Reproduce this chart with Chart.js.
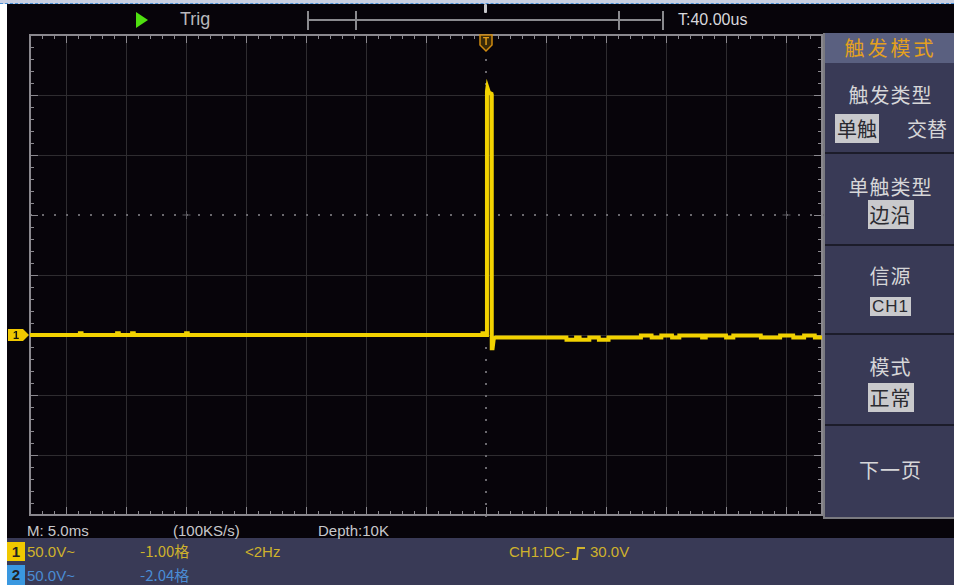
<!DOCTYPE html>
<html><head><meta charset="utf-8">
<script src="https://cdn.jsdelivr.net/npm/chart.js@4/dist/chart.umd.min.js"></script>
<style>
html,body{margin:0;padding:0;background:#fff;}
#wrap{position:relative;width:954px;height:585px;overflow:hidden;background:#fff;font-family:"Liberation Sans","DejaVu Sans",sans-serif;}
.abs{position:absolute;}
#screen{left:7px;top:3px;width:947px;height:582px;background:#07040a;}
#topline{left:0;top:0;width:954px;height:3px;background:#c9d0e2;border-bottom:1px dashed #4a90d8;}
#bottom{left:7px;top:538px;width:947px;height:47px;background:#393a56;}
#panel{left:823px;top:33px;width:131px;height:484px;background:#393a56;border-left:2px solid #7a7a80;border-bottom:2px solid #7a7a80;}
.sep{position:absolute;left:0;width:131px;height:2px;background:#1c1c2a;}
.cjk{font-family:"Noto Sans CJK SC",sans-serif;}
.mt{position:absolute;left:0;width:131px;text-align:center;color:#d6d6d8;font-size:20px;line-height:24px;letter-spacing:1px;}
.hl{background:#c9c9cc;color:#2a2a30;padding:0 2px;}
.st{position:absolute;font-size:15px;line-height:18px;}
canvas{position:absolute;left:0;top:0;}
</style></head>
<body><div id="wrap">
<div class="abs" id="screen"></div>
<div class="abs" id="topline"></div>
<div class="abs" id="bottom"></div>
<div class="abs" id="panel">
  <div class="abs" style="left:0;top:0;width:131px;height:30px;background:#5a6080;"></div>
  <div class="mt cjk" style="top:3px;color:#e4a020;letter-spacing:3px;">触发模式</div>
  <div class="mt cjk" style="top:50px;">触发类型</div>
  <div class="abs cjk" style="left:10px;top:84px;font-size:20px;line-height:24px;color:#d6d6d8;"><span class="hl">单触</span></div>
  <div class="abs cjk" style="left:82px;top:84px;font-size:20px;line-height:24px;color:#d6d6d8;">交替</div>
  <div class="sep" style="top:119px;"></div>
  <div class="mt cjk" style="top:142px;">单触类型</div>
  <div class="mt cjk" style="top:170px;"><span class="hl">边沿</span></div>
  <div class="sep" style="top:211px;"></div>
  <div class="mt cjk" style="top:231px;">信源</div>
  <div class="mt" style="top:262px;font-size:17px;"><span class="hl">CH1</span></div>
  <div class="sep" style="top:300px;"></div>
  <div class="mt cjk" style="top:322px;">模式</div>
  <div class="mt cjk" style="top:353px;"><span class="hl">正常</span></div>
  <div class="sep" style="top:391px;"></div>
  <div class="mt cjk" style="top:425px;">下一页</div>
</div>
<!-- top bar -->
<div class="abs" style="left:136px;top:12px;width:0;height:0;border-top:8px solid transparent;border-bottom:8px solid transparent;border-left:12px solid #4fe010;"></div>
<div class="abs" style="left:180px;top:9px;color:#b8b8bc;font-size:18px;line-height:20px;">Trig</div>
<div class="abs" style="left:307px;top:11px;width:2px;height:19px;background:#8a8a8e;"></div>
<div class="abs" style="left:309px;top:19px;width:352px;height:2px;background:#8a8a8e;"></div>
<div class="abs" style="left:355px;top:11px;width:2px;height:19px;background:#8a8a8e;"></div>
<div class="abs" style="left:618px;top:11px;width:2px;height:19px;background:#8a8a8e;"></div>
<div class="abs" style="left:662px;top:11px;width:2px;height:19px;background:#8a8a8e;"></div>
<div class="abs" style="left:484px;top:4px;width:3px;height:9px;background:#c8c8cc;border-radius:1px;"></div>
<div class="abs" style="left:678px;top:10px;color:#d8d8dc;font-size:16px;line-height:20px;">T:40.00us</div>
<!-- status -->
<div class="st" style="left:27px;top:522px;color:#c8c8cc;">M: 5.0ms</div>
<div class="st" style="left:173px;top:522px;color:#c8c8cc;">(100KS/s)</div>
<div class="st" style="left:318px;top:522px;color:#c8c8cc;">Depth:10K</div>
<div class="abs" style="left:7px;top:542px;width:18px;height:19px;background:#f0c800;color:#222;font-size:15px;line-height:19px;text-align:center;font-weight:bold;">1</div>
<div class="abs" style="left:7px;top:565px;width:18px;height:20px;background:#3a98e0;color:#222;font-size:15px;line-height:20px;text-align:center;font-weight:bold;">2</div>
<div class="st" style="left:27px;top:543px;color:#cfb22c;">50.0V~</div>
<div class="st cjk" style="left:140px;top:541px;color:#cfb22c;line-height:20px;">-1.00格</div>
<div class="st" style="left:245px;top:543px;color:#cfb22c;">&lt;2Hz</div>
<div class="st" style="left:509px;top:543px;color:#cfb22c;">CH1:DC-<span style="display:inline-block;width:16px;height:13px;position:relative;"><svg width="16" height="14" style="position:absolute;left:1px;top:2px"><path d="M1 13 H6 L7 2 H14" stroke="#cfb22c" stroke-width="2" fill="none"/></svg></span> 30.0V</div>
<div class="st" style="left:27px;top:567px;color:#4a8cd4;">50.0V~</div>
<div class="st cjk" style="left:140px;top:565px;color:#4a8cd4;line-height:20px;">-2.04格</div>
<canvas id="c" width="954" height="585"></canvas>
</div>
<script>
// time axis in ms (5 ms/div), voltage in V (50 V/div), CH1 ground at 0 V
const xRange = [-38, 28];
const yRange = [-150, 250];
const xGrid = [-35, -30, -25, -20, -15, -10, -5, 0, 5, 10, 15, 20, 25];
const yGrid = [-100, -50, 0, 50, 100, 150, 200];
const times = [-38, -33.85, -33.84, -33.7, -33.69, -30.75, -30.74, -30.6, -30.59, -29.5, -29.49, -29.35, -29.34, -25.0, -24.99, -24.85, -24.84, -12, -0.3, -0.29, -0.15, -0.14, 0.05, 0.08, 0.12, 0.25, 0.45, 0.48, 0.55, 0.65, 0.8,
  6.7, 6.71, 7.5, 7.51, 7.8, 7.81, 8.6, 8.61, 9.4, 9.41, 10.2, 10.21, 12.9, 12.91, 13.8, 13.81, 14.6, 14.61, 15.5, 15.51, 16.1, 16.11, 18.0, 18.01, 18.3, 18.31, 20.0, 20.01, 20.6, 20.61, 22.9, 22.91, 24.5, 24.51, 25.6, 25.61, 26.5, 26.51, 27.4, 27.41, 28];
const volts = [0, 0, 1.5, 1.5, 0, 0, 1.5, 1.5, 0, 0, 1.5, 1.5, 0, 0, 1.5, 1.5, 0, 0, 0, 1.5, 1.5, 0, 0, 203, 206, 202, 201, -11, -11, -3, -2,
  -2, -4, -4, -2, -2, -4, -4, -2, -2, -4, -4, -2, -2, -0.5, -0.5, -2, -2, -0.5, -0.5, -2, -2, -0.5, -0.5, -2, -2, -0.5, -0.5, -2, -2, -0.5, -0.5, -2, -2, -0.5, -0.5, -2, -2, -0.5, -0.5, -2, -2];
const xMinorStep = 1, yMinorStep = 10;

const pts = times.map((t, i) => ({x: t, y: volts[i]}));

const scopeGrid = {
  id: 'scopeGrid',
  beforeDatasetsDraw(chart) {
    const {ctx, chartArea: a, scales: {x, y}} = chart;
    ctx.save();
    ctx.fillStyle = '#07040a';
    ctx.fillRect(a.left, a.top, a.right - a.left, a.bottom - a.top);
    const cx = x.getPixelForValue(0), cy = y.getPixelForValue(100);
    ctx.strokeStyle = '#2e2c30'; ctx.lineWidth = 1;
    xGrid.forEach(v => { if (v === 0) return; const px = Math.round(x.getPixelForValue(v)) + 0.5;
      ctx.beginPath(); ctx.moveTo(px, a.top); ctx.lineTo(px, a.bottom); ctx.stroke(); });
    yGrid.forEach(v => { if (v === 100) return; const py = Math.round(y.getPixelForValue(v)) + 0.5;
      ctx.beginPath(); ctx.moveTo(a.left, py); ctx.lineTo(a.right, py); ctx.stroke(); });
    // dotted center lines
    ctx.fillStyle = '#6a686e';
    for (let v = xRange[0]; v <= xRange[1]; v += xMinorStep) {
      const px = x.getPixelForValue(v);
      ctx.fillRect(Math.round(px), Math.round(cy) - 1, 2, 2);
    }
    for (let v = yRange[0]; v <= yRange[1]; v += yMinorStep) {
      const py = y.getPixelForValue(v);
      ctx.fillRect(Math.round(cx) - 1, Math.round(py), 2, 2);
    }
    // small crosses on the center line
    ctx.strokeStyle = '#5a585e';
    [-25, 25].forEach(v => { const px = Math.round(x.getPixelForValue(v)) + 0.5;
      ctx.beginPath(); ctx.moveTo(px, cy - 4); ctx.lineTo(px, cy + 4); ctx.moveTo(px - 4, cy); ctx.lineTo(px + 4, cy); ctx.stroke(); });
    // border + ticks
    ctx.strokeStyle = '#8a888e'; ctx.lineWidth = 2;
    ctx.strokeRect(a.left, a.top, a.right - a.left, a.bottom - a.top);
    ctx.lineWidth = 1;
    for (let v = -37; v <= xRange[1]; v += xMinorStep) {
      const px = Math.round(x.getPixelForValue(v)) + 0.5;
      const len = (v % 5 === 0) ? 8 : 4;
      ctx.beginPath(); ctx.moveTo(px, a.top); ctx.lineTo(px, a.top + len);
      ctx.moveTo(px, a.bottom); ctx.lineTo(px, a.bottom - len); ctx.stroke();
    }
    for (let v = yRange[0] + yMinorStep; v < yRange[1]; v += yMinorStep) {
      const py = Math.round(y.getPixelForValue(v)) + 0.5;
      const len = ((v - 100) % 50 === 0) ? 8 : 4;
      ctx.beginPath(); ctx.moveTo(a.left, py); ctx.lineTo(a.left + len, py);
      ctx.moveTo(a.right, py); ctx.lineTo(a.right - len, py); ctx.stroke();
    }
    ctx.restore();
  },
  afterDatasetsDraw(chart) {
    const {ctx, chartArea: a, scales: {x, y}} = chart;
    ctx.save();
    const gy = y.getPixelForValue(0);
    ctx.fillStyle = '#f0c800';
    ctx.beginPath(); ctx.moveTo(8, gy - 6); ctx.lineTo(23, gy - 6); ctx.lineTo(29, gy); ctx.lineTo(23, gy + 6); ctx.lineTo(8, gy + 6); ctx.closePath(); ctx.fill();
    ctx.fillStyle = '#111'; ctx.font = 'bold 11px "Liberation Sans"'; ctx.textAlign = 'center'; ctx.textBaseline = 'middle';
    ctx.fillText('1', 16, gy + 1);
    const tx = x.getPixelForValue(0);
    ctx.strokeStyle = '#d08a10'; ctx.lineWidth = 1.5; ctx.fillStyle = '#3a2a08';
    ctx.beginPath(); ctx.moveTo(tx - 6, a.top); ctx.lineTo(tx + 6, a.top); ctx.lineTo(tx + 6, a.top + 10); ctx.lineTo(tx, a.top + 16); ctx.lineTo(tx - 6, a.top + 10); ctx.closePath(); ctx.fill(); ctx.stroke();
    ctx.fillStyle = '#e09a18'; ctx.font = 'bold 10px "Liberation Sans"';
    ctx.fillText('T', tx, a.top + 7);
    ctx.restore();
  }
};

new Chart(document.getElementById('c'), {
  type: 'line',
  data: { datasets: [{ data: pts, borderColor: '#f2d200', borderWidth: 4, pointRadius: 0, tension: 0, borderJoinStyle: 'miter', fill: false }] },
  options: {
    responsive: false, animation: false, events: [],
    layout: { padding: { left: 30, top: 35, right: 132, bottom: 70 } },
    plugins: { legend: { display: false }, tooltip: { enabled: false } },
    scales: {
      x: { type: 'linear', display: false, min: xRange[0], max: xRange[1] },
      y: { type: 'linear', display: false, min: yRange[0], max: yRange[1] }
    }
  },
  plugins: [scopeGrid]
});
</script>
</body></html>
